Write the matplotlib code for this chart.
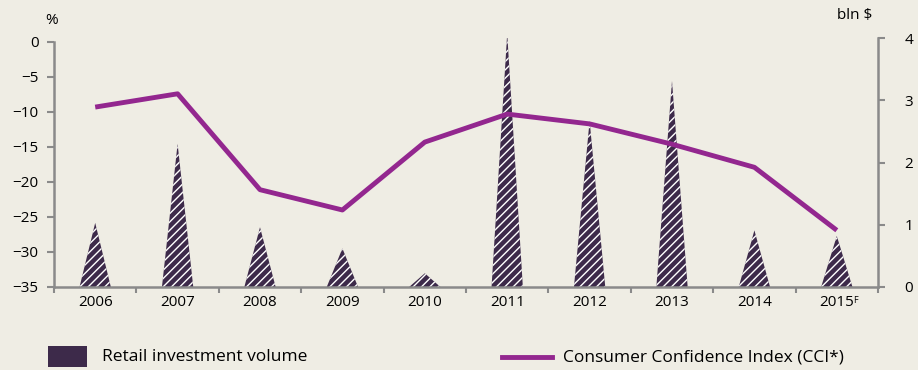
import numpy as np
import matplotlib.pyplot as plt
from matplotlib.patches import Rectangle
from matplotlib.lines import Line2D

years = ['2006', '2007', '2008', '2009', '2010', '2011', '2012', '2013', '2014', '2015']
cci = [-9.3, -7.4, -21.1, -24.0, -14.3, -10.3, -11.7, -14.6, -17.9, -26.9]
volume = [1.03, 2.3, 0.96, 0.62, 0.22, 4.07, 2.67, 3.31, 0.91, 0.82]

bg = '#efede4'
dark = '#3d2a4a'
purple = '#93278f'
grey = '#8a8a8a'

plt.rcParams['font.family'] = ['Open Sans', 'DejaVu Sans']
plt.rcParams['font.size'] = 11
plt.rcParams['hatch.color'] = 'white'
plt.rcParams['hatch.linewidth'] = 1.0

fig = plt.figure(figsize=(9.18, 3.70), dpi=100, facecolor=bg)
ax = fig.add_axes([54/918, 1-287/370, (878-54)/918, (287-38)/370])
ax2 = ax.twinx()

x = np.arange(len(years))
w = 0.38
for xi, v in zip(x, volume):
    ax2.fill([xi - w/2, xi, xi + w/2], [0, v, 0], facecolor=dark,
             edgecolor='white', hatch='////', linewidth=0)

ax.plot(x, cci, color=purple, lw=3.5, solid_capstyle='butt', zorder=5)
ax.set_zorder(ax2.get_zorder() + 1)
ax.patch.set_visible(False)
ax2.set_facecolor(bg)

ax.set_xlim(-0.5, len(years) - 0.5)
ax.set_ylim(-35, 0.57)
ax.set_yticks(np.arange(-35, 1, 5))
ax2.set_ylim(0, 4)
ax2.set_yticks([0, 1, 2, 3, 4])

ax.set_xticks(x)
ax.set_xticklabels(years)
ax.set_xticks(np.arange(-0.5, len(years)), minor=True)
ax.tick_params(axis='x', which='major', length=0, pad=6)
ax.tick_params(axis='x', which='minor', length=4, width=1.5, color=grey)
ax.tick_params(axis='y', length=5, width=1.5, color=grey, pad=6)
ax2.tick_params(axis='y', length=5, width=1.5, color=grey, pad=14)

# forecast mark on the last year label
ax.annotate('F', xy=(x[-1], 0), xycoords=('data', 'axes fraction'),
            xytext=(12, -10), textcoords='offset points', fontsize=6.5,
            ha='left', va='center')

for a in (ax, ax2):
    a.spines['top'].set_visible(False)
    for s in ('left', 'right', 'bottom'):
        a.spines[s].set_color(grey)
        a.spines[s].set_linewidth(1.8)
ax.spines['right'].set_visible(False)
ax2.spines['left'].set_visible(False)
ax2.spines['bottom'].set_visible(False)
ax.spines['left'].set_bounds(-35, 0)

fig.text(52/918, 1-20/370, '%', ha='center', va='center')
fig.text(855/918, 1-15/370, 'bln $', ha='center', va='center')

# legend
fig.patches.append(Rectangle((48/918, 1-367/370), 39/918, 21/370,
                             transform=fig.transFigure, facecolor=dark, edgecolor='none'))
fig.text(102/918, 1-357/370, 'Retail investment volume', ha='left', va='center', fontsize=12.5)
fig.lines.append(Line2D([502/918, 552/918], [1-357/370, 1-357/370],
                        transform=fig.transFigure, color=purple, lw=3.5))
fig.text(563/918, 1-357/370, 'Consumer Confidence Index (CCI*)', ha='left', va='center', fontsize=12.5)

fig.savefig('out.png', dpi=100, facecolor=bg)
